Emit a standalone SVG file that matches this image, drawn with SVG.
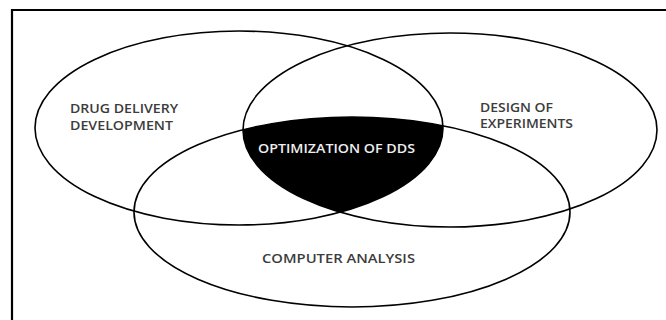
<svg xmlns="http://www.w3.org/2000/svg" width="666" height="320" viewBox="0 0 666 320">
  <style>
    .ring { fill: none; stroke: #000; stroke-width: 1.6; }
    .lbl { font-family: "Open Sans", "Liberation Sans", sans-serif; font-size: 12px; font-weight: 600; fill: #3c3c3c; }
    .inv { font-family: "Open Sans", "Liberation Sans", sans-serif; font-size: 12px; font-weight: 600; fill: #eeeeee; }
  </style>
  <defs>
    <clipPath id="clipLeft"><ellipse cx="239" cy="128" rx="204" ry="97"/></clipPath>
    <clipPath id="clipRight"><ellipse cx="450" cy="130" rx="207" ry="97"/></clipPath>
  </defs>
  <rect width="666" height="320" fill="#fff"/>
  <g id="frame">
    <path d="M12 321 V10 H667" fill="none" stroke="#000" stroke-width="2.2"/>
  </g>
  <g id="center-region">
    <g clip-path="url(#clipLeft)">
      <ellipse cx="352" cy="212" rx="218" ry="95" fill="#000" clip-path="url(#clipRight)"/>
    </g>
    <text class="inv" x="258" y="153" textLength="157" lengthAdjust="spacingAndGlyphs">OPTIMIZATION OF DDS</text>
  </g>
  <g id="drug-delivery">
    <ellipse class="ring" cx="239" cy="128" rx="204" ry="97"/>
    <text class="lbl" x="70" y="113" textLength="108" lengthAdjust="spacingAndGlyphs">DRUG DELIVERY</text>
    <text class="lbl" x="70" y="130" textLength="103" lengthAdjust="spacingAndGlyphs">DEVELOPMENT</text>
  </g>
  <g id="design-of-experiments">
    <ellipse class="ring" cx="450" cy="130" rx="207" ry="97"/>
    <text class="lbl" x="480" y="112" textLength="73" lengthAdjust="spacingAndGlyphs">DESIGN OF</text>
    <text class="lbl" x="480" y="127.5" textLength="93" lengthAdjust="spacingAndGlyphs">EXPERIMENTS</text>
  </g>
  <g id="computer-analysis">
    <ellipse class="ring" cx="352" cy="212" rx="218" ry="95"/>
    <text class="lbl" x="262" y="263" textLength="153" lengthAdjust="spacingAndGlyphs">COMPUTER ANALYSIS</text>
  </g>
  <g id="connectors"/>
</svg>
